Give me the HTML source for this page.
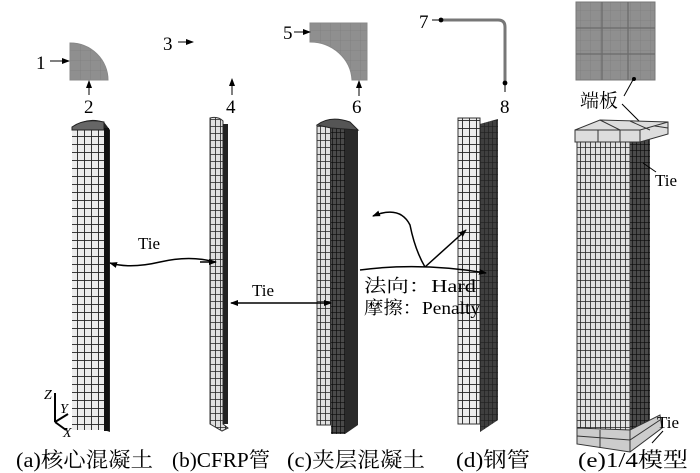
<!DOCTYPE html>
<html><head><meta charset="utf-8"><style>
body{margin:0;background:#fff;}
svg{display:block;font-family:"Liberation Serif","Noto Serif CJK SC",serif;}
</style></head><body>
<svg width="700" height="473" viewBox="0 0 700 473" xmlns="http://www.w3.org/2000/svg">
<defs>
<pattern id="g7" width="7" height="8" patternUnits="userSpaceOnUse"><rect width="7" height="8" fill="#ececec"/><path d="M0 0H7M0 0V8" stroke="#222" stroke-width="1.8" fill="none"/></pattern>
<pattern id="g5" width="5" height="7" patternUnits="userSpaceOnUse"><rect width="5" height="7" fill="#e0e0e0"/><path d="M0 0H5M0 0V7" stroke="#222" stroke-width="1.6" fill="none"/></pattern>
<pattern id="gd" width="4" height="6" patternUnits="userSpaceOnUse"><rect width="4" height="6" fill="#4a4a4a"/><path d="M0 0H4M0 0V6" stroke="#0a0a0a" stroke-width="1.3" fill="none"/></pattern>
<pattern id="gs" width="10" height="10" patternUnits="userSpaceOnUse"><rect width="10" height="10" fill="#8f8f8f"/><path d="M0 0H10M0 0V10" stroke="#777" stroke-width="0.6" fill="none"/></pattern>
<marker id="ar" markerWidth="8" markerHeight="8" refX="7" refY="4" orient="auto" markerUnits="userSpaceOnUse"><path d="M0 1L8 4L0 7Z" fill="#000"/></marker>
</defs>

<path d="M70 43 A38 37 0 0 1 108 80 L70 80Z" fill="url(#gs)" stroke="#888"/>
<text x="36" y="69" font-size="19">1</text><line x1="50" y1="61" x2="69" y2="61" stroke="#000" marker-end="url(#ar)"/>
<text x="84" y="113" font-size="19">2</text><line x1="89" y1="95" x2="89" y2="81" stroke="#000" marker-end="url(#ar)"/>
<text x="163" y="50" font-size="19">3</text><line x1="178" y1="42" x2="193" y2="42" stroke="#000" marker-end="url(#ar)"/>
<text x="226" y="113" font-size="19">4</text><line x1="232" y1="95" x2="232" y2="79" stroke="#000" marker-end="url(#ar)"/>
<path d="M310 23 H367 V80 H352 A42 40 0 0 0 310 42 Z" fill="url(#gs)" stroke="#888"/>
<text x="283" y="39" font-size="19">5</text><line x1="294" y1="32" x2="310" y2="32" stroke="#000" marker-end="url(#ar)"/>
<text x="352" y="113" font-size="19">6</text><line x1="359" y1="96" x2="359" y2="81" stroke="#000" marker-end="url(#ar)"/>
<text x="419" y="28" font-size="19">7</text>
<path d="M440 20 H498 Q505 20 505 27 V83" fill="none" stroke="#777" stroke-width="3"/>
<line x1="432" y1="20" x2="440" y2="20" stroke="#000"/><circle cx="441" cy="20" r="2.4"/><circle cx="505" cy="83" r="2.4"/>
<line x1="505" y1="85" x2="505" y2="92" stroke="#000"/>
<text x="500" y="113" font-size="19">8</text>
<rect x="576" y="2" width="79" height="78" fill="url(#gs)" stroke="#777"/>
<path d="M602 2V80M628 2V80M576 28H655M576 54H655" stroke="#6a6a6a" stroke-width="1.2"/>
<text x="580" y="107" font-size="19">端板</text>
<path d="M634 78 L624 96 M622 104 L640 122" stroke="#000" fill="none"/><circle cx="634" cy="79" r="2"/>

<path d="M72 127 Q88 116 104 122 L110 130 L110 432 L104 430 L72 428Z" fill="#222"/>
<rect x="72" y="128" width="32" height="302" fill="url(#g7)"/>
<path d="M72 127 Q85 118 104 122 L104 130 L72 130Z" fill="#666" stroke="#222"/>
<rect x="104" y="128" width="5" height="303" fill="#111"/>

<path d="M210 118 Q218 116 223 121 L223 424 L228 428 L222 431 L210 424Z" fill="url(#g5)" stroke="#333"/>
<rect x="223" y="124" width="5" height="300" fill="#222"/>

<rect x="317" y="125" width="14" height="300" fill="url(#g5)" stroke="#333"/>
<rect x="331" y="128" width="14" height="306" fill="url(#gd)"/>
<path d="M345 126 L358 130 L358 425 L345 434Z" fill="#2a2a2a"/>
<path d="M317 125 Q330 115 350 122 L358 130 L331 128Z" fill="#555" stroke="#222"/>

<rect x="458" y="118" width="22" height="306" fill="url(#g7)" stroke="#333"/>
<path d="M480 124 L498 119 L498 420 L480 432Z" fill="url(#gd)"/>
<path d="M480 124 L498 119 L498 420 L480 432Z" fill="#333" opacity="0.5"/>

<rect x="577" y="140" width="53" height="290" fill="url(#g5)" stroke="#333"/>
<path d="M630 142 L650 135 L650 420 L630 432Z" fill="url(#gd)"/>
<path d="M575 130 L600 120 L668 122 L668 134 L640 142 L575 142Z" fill="#ddd" stroke="#333"/>
<path d="M575 130 L640 130 L668 122 M640 130 V142 M598 130V142 M620 130V142 M600 120L620 130 M630 121L650 130 M655 126L668 128" stroke="#333" fill="none"/>
<path d="M577 428 L630 430 L660 415 L662 428 L630 452 L577 444Z" fill="#ccc" stroke="#333"/>
<path d="M630 430V452M600 430V448M577 436L630 440L660 420" stroke="#333" fill="none"/>
<text x="655" y="186" font-size="17">Tie</text><line x1="643" y1="163" x2="656" y2="172" stroke="#000"/>
<text x="657" y="428" font-size="17">Tie</text><line x1="663" y1="431" x2="652" y2="443" stroke="#000"/>

<text x="138" y="249" font-size="17">Tie</text>
<path d="M215 262 Q190 255 160 262 T110 263" fill="none" stroke="#000" stroke-width="1.5" marker-end="url(#ar)"/>
<line x1="200" y1="262" x2="216" y2="262" stroke="#000" stroke-width="1.5" marker-end="url(#ar)"/>
<text x="252" y="296" font-size="17">Tie</text>
<line x1="260" y1="303" x2="231" y2="303" stroke="#000" stroke-width="1.5" marker-end="url(#ar)"/>
<line x1="300" y1="303" x2="331" y2="303" stroke="#000" stroke-width="1.5" marker-end="url(#ar)"/>
<line x1="260" y1="303" x2="300" y2="303" stroke="#000" stroke-width="1.5"/>
<path d="M425 267 Q415 250 410 225 Q400 205 373 216" fill="none" stroke="#000" stroke-width="1.5" marker-end="url(#ar)"/>
<path d="M425 267 L466 230" fill="none" stroke="#000" stroke-width="1.5" marker-end="url(#ar)"/>
<path d="M360 270 Q420 262 486 273" fill="none" stroke="#000" stroke-width="1.5" marker-end="url(#ar)"/>
<text x="364" y="292" font-size="18" textLength="112" lengthAdjust="spacingAndGlyphs">法向：Hard</text>
<text x="364" y="314" font-size="18" textLength="116" lengthAdjust="spacingAndGlyphs">摩擦：Penalty</text>

<path d="M55 422 V393 M55 422 L68 414 M55 422 L66 430" stroke="#000" stroke-width="2" fill="none"/>
<text x="44" y="399" font-size="14" font-style="italic">Z</text>
<text x="60" y="413" font-size="14" font-style="italic">Y</text>
<text x="63" y="437" font-size="14" font-style="italic">X</text>

<g font-size="21">
<text x="16" y="467" textLength="137" lengthAdjust="spacingAndGlyphs">(a)核心混凝土</text>
<text x="172" y="467" textLength="98" lengthAdjust="spacingAndGlyphs">(b)CFRP管</text>
<text x="287" y="467" textLength="138" lengthAdjust="spacingAndGlyphs">(c)夹层混凝土</text>
<text x="456" y="467" textLength="74" lengthAdjust="spacingAndGlyphs">(d)钢管</text>
<text x="578" y="467" textLength="110" lengthAdjust="spacingAndGlyphs">(e)1/4模型</text>
</g>
</svg>
</body></html>
